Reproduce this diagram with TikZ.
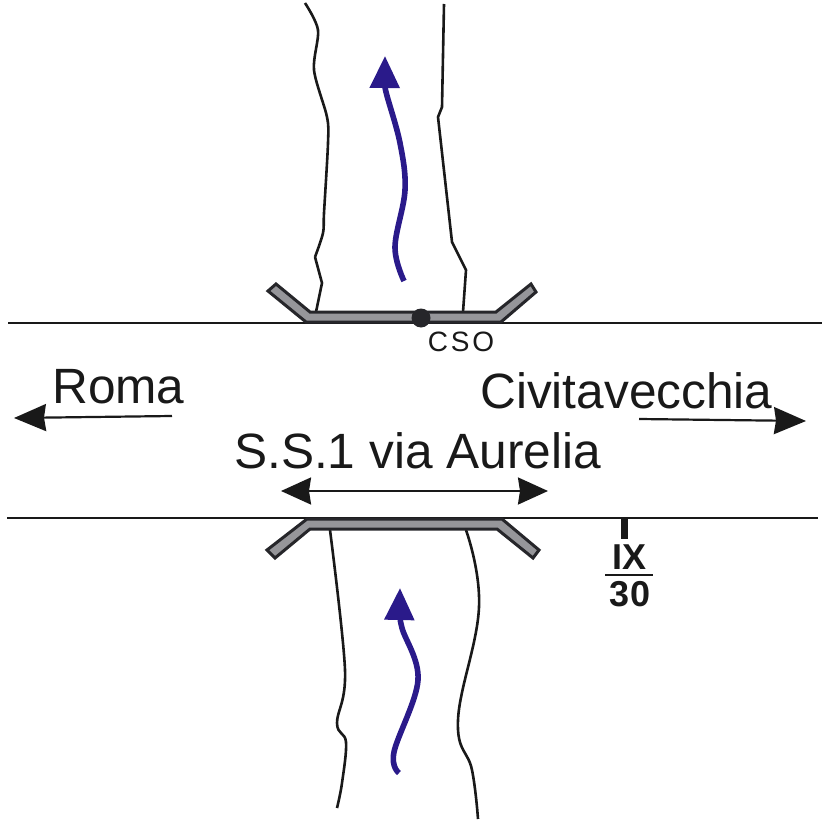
\documentclass[tikz,border=0pt]{standalone}
\usepackage{fontspec}
\setmainfont{Liberation Sans}
\usetikzlibrary{arrows.meta}
\definecolor{bridgegrey}{RGB}{150,150,154}
\definecolor{bridgeedge}{RGB}{38,38,42}
\definecolor{flowblue}{RGB}{42,26,138}
\tikzset{
  road/.style={line width=2pt,black!90},
  bank/.style={line width=2.6pt,black!90,line join=round},
  bridge/.style={fill=bridgegrey,draw=bridgeedge,line width=3pt,line join=miter},
  flow/.style={line width=5.6pt,flowblue,-{Triangle[length=32pt,width=29pt]}},
  way/.style={line width=2.2pt,black!90,-{Stealth[length=32pt,width=27pt,inset=2pt]}},
  waytwo/.style={line width=2.2pt,black!90,{Stealth[length=30pt,width=27pt,inset=2pt]}-{Stealth[length=30pt,width=27pt,inset=2pt]}},
  bigtext/.style={font=\fontsize{49.6}{50}\selectfont,inner sep=0pt,text=black!90},
  kmtext/.style={font=\fontsize{36}{36}\selectfont\bfseries,inner sep=0pt,text=black!90}
}
\begin{document}
\begin{tikzpicture}[x=1pt,y=-1pt]
\useasboundingbox (0,0) rectangle (826,826);
\fill[white] (0,0) rectangle (826,826);
% road edges
\draw[road] (8,323) -- (822,323);
\draw[road] (7,518) -- (818,518);
% river banks, upstream
\draw[bank] plot[smooth,tension=0.5] coordinates {(305,3) (318,30) (314,70) (327,117) (328,143) (324,213) (323,233) (315,257)};
\draw[bank] (315,257) -- (322,283) -- (316,312);
\draw[bank] (444,4) -- (442,107) -- (438,117) -- (452,242) -- (466,270) -- (463,312);
% river banks, downstream
\draw[bank] plot[smooth,tension=0.6] coordinates {(330,530) (345,670) (337,723) (346,742) (342,783) (337,808)};
\draw[bank] plot[smooth,tension=0.7] coordinates {(466,530) (479,607) (458,720) (472,770) (478,819)};
% bridge
\draw[bridge] (268,291) -- (276,284) -- (310,312) -- (496,312) -- (531,284) -- (536,292) -- (501,322) -- (306,322) -- cycle;
\draw[bridge] (267,550) -- (275,558) -- (310,529) -- (497,529) -- (533,558) -- (539,550) -- (502,519) -- (307,519) -- cycle;
% flow
\draw[flow] plot[smooth,tension=0.6] coordinates {(404,281) (395,247) (405,190) (400,143) (386,92) (385,80) (385,56)};
\draw[flow] plot[smooth,tension=0.6] coordinates {(399,773) (394,752) (418,680) (402,628) (400,610) (400,588)};
% point
\node[circle,fill=bridgeedge,inner sep=0pt,minimum size=19pt] (cso) at (421,318) {};
\node[inner sep=0pt,font=\fontsize{28}{28}\selectfont\addfontfeature{LetterSpace=10},text=black!90] (csolabel) at (461,342) {CSO};
% directions
\node[bigtext,anchor=base west] (roma) at (52,403) {Roma};
\node[bigtext,anchor=base west] (civita) at (480,408) {Civitavecchia};
\node[bigtext,anchor=base west] (aurelia) at (234,468) {S.S.1 via Aurelia};
\coordinate (romaa) at (172,416);
\coordinate (romab) at (14,418);
\coordinate (civitaa) at (639,419);
\coordinate (civitab) at (806,421);
\coordinate (aureliaa) at (281,491);
\coordinate (aureliab) at (548,491);
\draw[way] (romaa) -- (romab);
\draw[way] (civitaa) -- (civitab);
\draw[waytwo] (aureliaa) -- (aureliab);
% milestone
\coordinate (kmtop) at (624,519);
\coordinate (kmfoot) at (624,539);
\draw[line width=7pt,black!90] (kmtop) -- (kmfoot);
\node[kmtext,anchor=base] (kmnum) at (629,569) {IX};
\node[kmtext,anchor=base] (kmval) at (630,606) {30};
\coordinate (kmbara) at (605,575);
\coordinate (kmbarb) at (653,575);
\draw[line width=2.2pt,black!90] (kmbara) -- (kmbarb);
\end{tikzpicture}
\end{document}
